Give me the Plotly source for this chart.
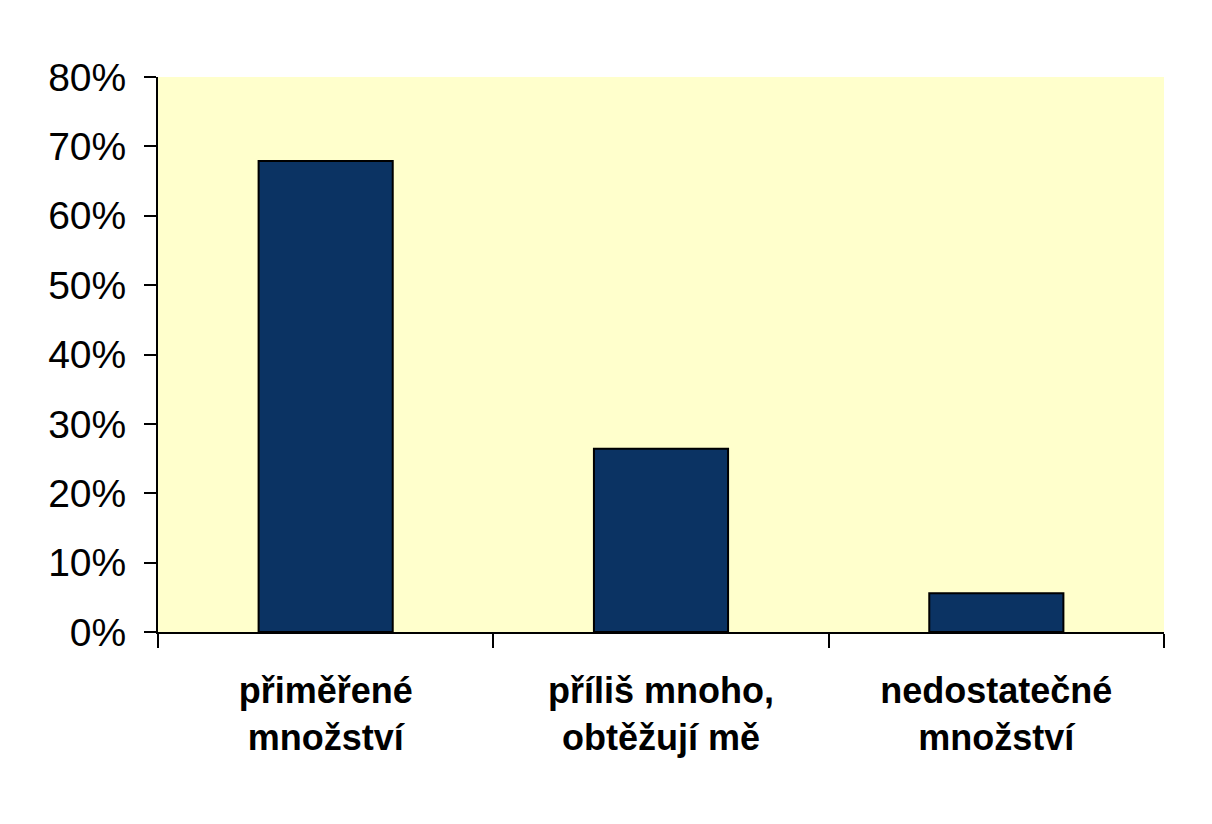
import plotly.graph_objects as go

# survey answers and share of respondents
categories = ["přiměřené<br>množství", "příliš mnoho,<br>obtěžují mě", "nedostatečné<br>množství"]
shares = [0.679, 0.264, 0.056]

ytick_vals = [0, 0.1, 0.2, 0.3, 0.4, 0.5, 0.6, 0.7, 0.8]

fig = go.Figure(go.Bar(
    x=categories,
    y=shares,
    width=0.4,
    marker=dict(color="#0B3363", line=dict(color="black", width=2)),
))

fig.update_layout(
    width=1212, height=824,
    margin=dict(l=150, r=56, t=69, b=200),
    plot_bgcolor="#FFFFCC",
    paper_bgcolor="white",
    showlegend=False,
    font=dict(family="Liberation Sans, Arial", color="black"),
)

fig.update_xaxes(
    tickson="boundaries",
    ticks="outside", ticklen=14, tickwidth=2, tickcolor="black",
    showline=True, linecolor="black", linewidth=2,
    tickfont=dict(size=36, weight="bold"),
    ticklabelstandoff=26,
    showgrid=False,
)

fig.update_yaxes(
    range=[0, 0.8],
    tickvals=ytick_vals,
    tickformat=".0%",
    ticks="outside", ticklen=12, tickwidth=2, tickcolor="black",
    showline=True, linecolor="black", linewidth=2,
    tickfont=dict(size=39),
    ticklabelstandoff=10,
    showgrid=False, zeroline=False,
)

fig.write_html("out.html")
